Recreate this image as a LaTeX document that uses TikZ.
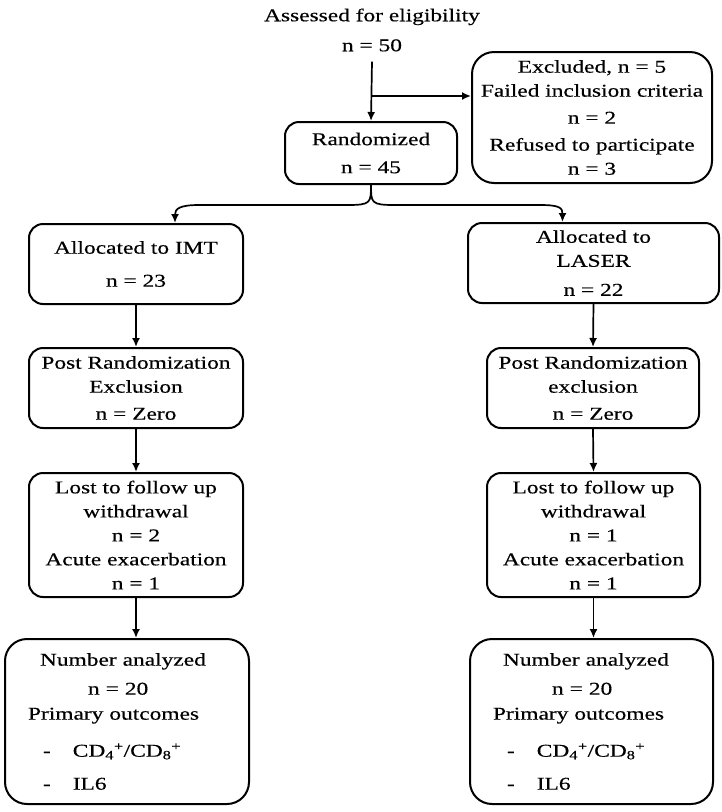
\documentclass[tikz,border=0pt]{standalone}
\usepackage{fontspec}
\setmainfont{Liberation Serif}[FakeStretch=1.3,FakeBold=0.4]
\usetikzlibrary{arrows.meta}

\begin{document}
\begin{tikzpicture}
  [x=1pt,y=-1pt,
   every node/.style={font=\fontsize{18}{24}\selectfont,align=center,inner sep=2pt},
   box/.style={draw,line width=2pt,rounded corners=14pt},
   bigbox/.style={box,rounded corners=22pt},
   arr/.style={line width=1.7pt,-{Latex[length=9pt,width=8pt]}}]
  \useasboundingbox (0,0) rectangle (721,812);

  \node (assess) at (372,30) {Assessed for eligibility\\[6pt] n = 50};
  \node[bigbox,minimum width=240,minimum height=131] (excl) at (592,117.5)
    {Excluded, n = 5\\ Failed inclusion criteria\\[3pt] n = 2\\[3pt] Refused to participate\\ n = 3};
  \node[box,minimum width=172,minimum height=62] (rand) at (371,153) {Randomized\\[4pt] n = 45};

  \node[box,minimum width=214,minimum height=80] (imt) at (136,264) {Allocated to IMT\\[9pt] n = 23};
  \node[box,minimum width=251,minimum height=80] (laser) at (593.5,263) {Allocated to\\ LASER\\[5pt] n = 22};

  \node[box,minimum width=214,minimum height=80] (post1) at (136,388) {Post Randomization\\ Exclusion\\[3pt] n = Zero};
  \node[box,minimum width=212,minimum height=80] (post2) at (593,388) {Post Randomization\\ exclusion\\[3pt] n = Zero};

  \node[box,minimum width=214,minimum height=124] (lost1) at (136,535)
    {Lost to follow up\\ withdrawal\\ n = 2\\ Acute exacerbation\\ n = 1};
  \node[box,minimum width=213,minimum height=124] (lost2) at (593.5,535)
    {Lost to follow up\\ withdrawal\\ n = 1\\ Acute exacerbation\\ n = 1};

  \node[bigbox,minimum width=244,minimum height=165,align=left,inner xsep=23pt,text width=198pt] (num1) at (127,721.5)
    {\hspace*{12pt}Number analyzed\\[5pt]
     \hspace*{60pt}n = 20\\[1pt]
     Primary outcomes\\[13pt]
     \hspace*{15pt}-\hspace{22pt}CD\textsubscript{4}\textsuperscript{+}/CD\textsubscript{8}\textsuperscript{+}\\[9pt]
     \hspace*{15pt}-\hspace{22pt}IL6};
  \node[bigbox,minimum width=243,minimum height=165,align=left,inner xsep=23pt,text width=197pt] (num2) at (591.5,721.5)
    {\hspace*{10pt}Number analyzed\\[5pt]
     \hspace*{59pt}n = 20\\[1pt]
     Primary outcomes\\[13pt]
     \hspace*{14pt}-\hspace{22pt}CD\textsubscript{4}\textsuperscript{+}/CD\textsubscript{8}\textsuperscript{+}\\[9pt]
     \hspace*{14pt}-\hspace{22pt}IL6};

  % screening
  \coordinate (br) at (372,96);
  \draw[arr] ([yshift=-8pt]assess.south) -- (rand.north);
  \draw[arr] (br) -- (br -| excl.west);

  % split into the two arms
  \draw[arr] (rand.south) .. controls +(0,18) and +(24,0) .. (347,205) -- (199,205)
    .. controls +(-20,0) and +(0,-14) .. ([xshift=39pt]imt.north);
  \draw[arr] (rand.south) .. controls +(0,18) and +(-24,0) .. (395,205) -- (540,205)
    .. controls +(20,0) and +(0,-14) .. ([xshift=-31pt]laser.north);

  \foreach \from/\to in {imt/post1,post1/lost1,laser/post2,post2/lost2}
    \draw[arr] (\from.south) -- (\to.north);
  \draw[arr] (lost1.south) -- (lost1.south |- num1.north);
  \draw[arr] (lost2.south) -- (lost2.south |- num2.north);

\end{tikzpicture}
\end{document}
